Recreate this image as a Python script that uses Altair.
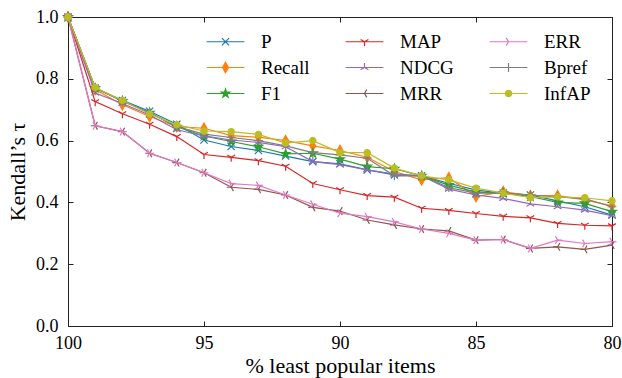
import math
import altair as alt
import pandas as pd

# ---------------- data ----------------
x_vals = list(range(100, 79, -1))
metrics = ["P", "Recall", "F1", "MAP", "NDCG", "MRR", "ERR", "Bpref", "InfAP"]

P      = [1.0, 0.770, 0.730, 0.695, 0.653, 0.602, 0.581, 0.568, 0.550, 0.532, 0.525, 0.505, 0.489, 0.486, 0.462, 0.440, 0.430, 0.424, 0.405, 0.386, 0.359]
Recall = [1.0, 0.765, 0.716, 0.678, 0.645, 0.640, 0.616, 0.611, 0.600, 0.583, 0.568, 0.546, 0.500, 0.473, 0.480, 0.419, 0.435, 0.422, 0.422, 0.408, 0.389]
F1     = [1.0, 0.770, 0.728, 0.690, 0.645, 0.615, 0.597, 0.580, 0.557, 0.559, 0.540, 0.516, 0.509, 0.486, 0.456, 0.433, 0.430, 0.419, 0.400, 0.397, 0.370]
MAP    = [1.0, 0.726, 0.687, 0.653, 0.613, 0.555, 0.546, 0.535, 0.517, 0.461, 0.441, 0.422, 0.417, 0.381, 0.374, 0.364, 0.355, 0.350, 0.332, 0.326, 0.324]
NDCG   = [1.0, 0.754, 0.720, 0.683, 0.635, 0.615, 0.602, 0.594, 0.580, 0.532, 0.522, 0.505, 0.492, 0.486, 0.443, 0.424, 0.413, 0.395, 0.386, 0.375, 0.357]
MRR    = [1.0, 0.648, 0.629, 0.559, 0.529, 0.496, 0.449, 0.442, 0.424, 0.384, 0.372, 0.343, 0.327, 0.314, 0.308, 0.278, 0.280, 0.251, 0.256, 0.248, 0.262]
ERR    = [1.0, 0.648, 0.629, 0.559, 0.529, 0.496, 0.461, 0.455, 0.424, 0.394, 0.365, 0.354, 0.337, 0.314, 0.300, 0.278, 0.280, 0.251, 0.278, 0.267, 0.273]
Bpref  = [1.0, 0.770, 0.728, 0.690, 0.645, 0.621, 0.610, 0.600, 0.583, 0.561, 0.554, 0.543, 0.486, 0.486, 0.448, 0.430, 0.430, 0.424, 0.418, 0.412, 0.386]
InfAP  = [1.0, 0.772, 0.730, 0.686, 0.651, 0.631, 0.629, 0.620, 0.592, 0.600, 0.561, 0.561, 0.511, 0.486, 0.473, 0.446, 0.430, 0.415, 0.418, 0.415, 0.405]

series = {"P": P, "Recall": Recall, "F1": F1, "MAP": MAP, "NDCG": NDCG,
          "MRR": MRR, "ERR": ERR, "Bpref": Bpref, "InfAP": InfAP}

x_ticks = [100, 95, 90, 85, 80]
y_ticks = [0.0, 0.2, 0.4, 0.6, 0.8, 1.0]

colors = {"P": "#1f77b4", "Recall": "#ff7f0e", "F1": "#2ca02c", "MAP": "#d62728",
          "NDCG": "#9467bd", "MRR": "#8c564b", "ERR": "#e377c2", "Bpref": "#7f7f7f",
          "InfAP": "#bcbd22"}

# ---------------- marker shapes ----------------
def star_path():
    pts = []
    for k in range(10):
        ang = math.radians(-90 + 36 * k)
        r = 1.0 if k % 2 == 0 else 0.382
        pts.append(f"{r*math.cos(ang):.3f},{r*math.sin(ang):.3f}")
    return "M" + "L".join(pts) + "Z"

markers = {
    "P": "M-0.8,-0.8L0.8,0.8M-0.8,0.8L0.8,-0.8",
    "Recall": "M0,-1.15L0.65,0L0,1.15L-0.65,0Z",
    "F1": star_path(),
    "MAP": "M0,0L0,1M0,0L-0.866,-0.5M0,0L0.866,-0.5",
    "NDCG": "M0,0L0,-1M0,0L-0.866,0.5M0,0L0.866,0.5",
    "MRR": "M0,0L-1,0M0,0L0.5,-0.866M0,0L0.5,0.866",
    "ERR": "M0,0L1,0M0,0L-0.5,-0.866M0,0L-0.5,0.866",
    "Bpref": "M-1,0L1,0M0,-1L0,1",
    "InfAP": "M0.7,0A0.7,0.7,0,1,1,-0.7,0A0.7,0.7,0,1,1,0.7,0Z",
}
seg = "M-4.2,0L4.2,0"

rows = []
for m in metrics:
    for xv, yv in zip(x_vals, series[m]):
        rows.append({"pct": xv, "tau": yv, "metric": m})
df = pd.DataFrame(rows)

FONT = "Liberation Serif"
INK = "#222222"

color_scale = alt.Scale(domain=metrics, range=[colors[m] for m in metrics])
legend_shape_scale = alt.Scale(domain=metrics, range=[seg + markers[m] for m in metrics])

x_scale = alt.Scale(domain=[100, 80], nice=False, zero=False)
y_scale = alt.Scale(domain=[0, 1], nice=False, zero=False)

common_axis = dict(offset=-5, tickSize=5, tickColor=INK, tickWidth=1,
                   domain=False, grid=False, labelFont=FONT, labelFontSize=18,
                   labelColor="black", titleFont=FONT, titleFontSize=22,
                   titleColor="black", titleFontWeight="normal",
                   labelFlush=False, labelOverlap=False, labelBound=False)

def axis(**kw):
    d = dict(common_axis)
    d.update(kw)
    return alt.Axis(**d)

# axes: bottom/left with labels, top/right ticks only
axes_bl = alt.Chart(df).mark_point(opacity=0).encode(
    x=alt.X("pct:Q", scale=x_scale,
            axis=axis(orient="bottom", values=x_ticks, format="d", labelPadding=8,
                      title="% least popular items", titlePadding=3)),
    y=alt.Y("tau:Q", scale=y_scale,
            axis=axis(orient="left", values=y_ticks, format=".1f", labelPadding=10,
                      title="Kendall’s τ", titlePadding=6)),
)
axes_tr = alt.Chart(df).mark_point(opacity=0).encode(
    x=alt.X("pct:Q", scale=x_scale,
            axis=axis(orient="top", values=x_ticks, labels=False, title=None)),
    y=alt.Y("tau:Q", scale=y_scale,
            axis=axis(orient="right", values=y_ticks, labels=False, title=None)),
)

series_layers = []
for m in metrics:
    base = alt.Chart(df).transform_filter(alt.datum.metric == m).encode(
        x=alt.X("pct:Q", scale=x_scale, axis=None),
        y=alt.Y("tau:Q", scale=y_scale, axis=None),
    )
    series_layers.append(base.mark_line(strokeWidth=1.2, color=colors[m]))
    series_layers.append(base.mark_point(
        filled=True, size=81, opacity=1, strokeWidth=1.2,
        shape=markers[m], fill=colors[m], stroke=colors[m]))

leg = dict(title=None, orient="none", legendX=148, legendY=15, columns=3,
           direction="vertical",
           symbolSize=81, symbolStrokeWidth=1.2, labelFont=FONT, labelFontSize=19,
           labelColor="black", labelOffset=26, columnPadding=33, rowPadding=6,
           padding=0, symbolOpacity=1)

legend_layer = alt.Chart(df).transform_filter("datum.tau > 2").mark_point(
    filled=True, size=81, opacity=1, strokeWidth=1.2).encode(
    x=alt.X("pct:Q", scale=x_scale, axis=None),
    y=alt.Y("tau:Q", scale=y_scale, axis=None),
    color=alt.Color("metric:N", scale=color_scale, legend=alt.Legend(**leg)),
    stroke=alt.Stroke("metric:N", scale=color_scale, legend=alt.Legend(**leg)),
    shape=alt.Shape("metric:N", scale=legend_shape_scale, legend=alt.Legend(**leg)),
)

chart = alt.layer(axes_bl, axes_tr, *series_layers, legend_layer).resolve_axis(
    x="independent", y="independent"
).properties(
    width=544, height=309,
    padding={"left": 68, "top": 17, "right": 10, "bottom": 52},
    autosize=alt.AutoSizeParams(type="none"),
).configure_view(stroke=INK, strokeWidth=1)

chart.save("out.html", embed_options={"renderer": "svg", "actions": False})
